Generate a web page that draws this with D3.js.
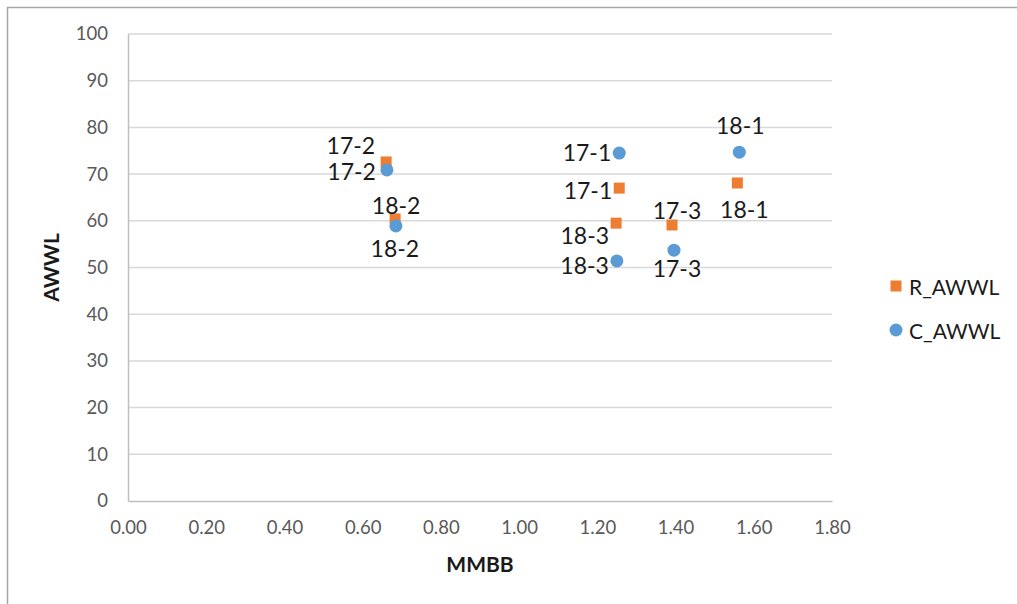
<!DOCTYPE html>
<html>
<head>
<meta charset="utf-8">
<script src="https://cdn.jsdelivr.net/npm/d3@7"></script>
<style>
  body { margin: 0; background: #fff; }
  svg { display: block; font-family: Lato, "Open Sans", sans-serif; }
</style>
</head>
<body>
<svg id="chart"></svg>
<script>
// data
const pointLabels = ["17-1", "17-2", "17-3", "18-1", "18-2", "18-3"];
const rMMBB = [1.256, 0.660, 1.391, 1.558, 0.683, 1.248];
const rAWWL = [67.0, 72.6, 59.1, 68.1, 60.4, 59.5];
const cMMBB = [1.256, 0.662, 1.396, 1.563, 0.685, 1.250];
const cAWWL = [74.5, 70.9, 53.7, 74.7, 58.9, 51.4];
const xTicks = [0, 0.2, 0.4, 0.6, 0.8, 1.0, 1.2, 1.4, 1.6, 1.8];
const yTicks = [0, 10, 20, 30, 40, 50, 60, 70, 80, 90, 100];

// where each data label sits next to its marker (style only)
const rLabelPlace = {
  "17-1": [-7, 2, "end"], "17-2": [-11, -17, "end"], "17-3": [5, -15, "middle"],
  "18-1": [7, 26, "middle"], "18-2": [1, -14, "middle"], "18-3": [-7, 12, "end"]
};
const cLabelPlace = {
  "17-1": [-8, -1, "end"], "17-2": [-11, 1, "end"], "17-3": [3, 18, "middle"],
  "18-1": [1, -27, "middle"], "18-2": [-1, 22, "middle"], "18-3": [-8, 4, "end"]
};

const W = 1017, H = 604;
const margin = { left: 128, top: 34, right: 185, bottom: 103 };
const width = W - margin.left - margin.right;
const height = H - margin.top - margin.bottom;

const svg = d3.select("#chart").attr("width", W).attr("height", H);
svg.append("rect").attr("width", W).attr("height", H).attr("fill", "#fff");

// outer chart frame (only top and left edges show in the picture)
svg.append("path")
  .attr("d", `M7.5,${H} V7.5 H${W}`)
  .attr("fill", "none")
  .attr("stroke", "#a6a6a6")
  .attr("stroke-width", 1.5);

const g = svg.append("g").attr("transform", `translate(${margin.left},${margin.top})`);

const x = d3.scaleLinear().domain([0, 1.8]).range([0, width]);
const y = d3.scaleLinear().domain([0, 100]).range([height, 0]);

// gridlines
g.append("g")
  .selectAll("line")
  .data(yTicks.filter((d) => d > 0))
  .join("line")
  .attr("x1", 0)
  .attr("x2", width)
  .attr("y1", (d) => y(d))
  .attr("y2", (d) => y(d))
  .attr("stroke", "#d9d9d9")
  .attr("stroke-width", 1.5);

// y axis
const yAxis = g.append("g").call(
  d3.axisLeft(y).tickValues(yTicks).tickSize(0).tickPadding(20).tickFormat(d3.format("d"))
);
yAxis.select(".domain").attr("stroke", "#bfbfbf").attr("stroke-width", 1.5);
yAxis.selectAll("text").attr("fill", "#595959").style("font-size", "18.5px")
  .style("font-family", "Lato, sans-serif");

// x axis
const xAxis = g.append("g")
  .attr("transform", `translate(0,${height})`)
  .call(d3.axisBottom(x).tickValues(xTicks).tickSize(0).tickPadding(20).tickFormat(d3.format(".2f")));
xAxis.select(".domain").attr("stroke", "#bfbfbf").attr("stroke-width", 1.5);
xAxis.selectAll("text").attr("fill", "#595959").style("font-size", "18.5px")
  .style("font-family", "Lato, sans-serif");

// axis titles
svg.append("text")
  .attr("x", margin.left + width / 2)
  .attr("y", 572)
  .attr("text-anchor", "middle")
  .style("font-size", "21px")
  .style("font-weight", "bold")
  .attr("fill", "#1a1a1a")
  .text("MMBB");

svg.append("text")
  .attr("transform", `translate(59,${margin.top + height / 2}) rotate(-90)`)
  .attr("text-anchor", "middle")
  .style("font-size", "21px")
  .style("font-weight", "bold")
  .attr("fill", "#1a1a1a")
  .text("AWWL");

const rData = pointLabels.map((d, i) => ({ label: d, x: rMMBB[i], y: rAWWL[i] }));
const cData = pointLabels.map((d, i) => ({ label: d, x: cMMBB[i], y: cAWWL[i] }));

// R_AWWL squares
g.append("g")
  .selectAll("rect")
  .data(rData)
  .join("rect")
  .attr("x", (d) => x(d.x) - 5.5)
  .attr("y", (d) => y(d.y) - 5.5)
  .attr("width", 11)
  .attr("height", 11)
  .attr("fill", "#ed7d31");

// C_AWWL circles
g.append("g")
  .selectAll("circle")
  .data(cData)
  .join("circle")
  .attr("cx", (d) => x(d.x))
  .attr("cy", (d) => y(d.y))
  .attr("r", 6.5)
  .attr("fill", "#5b9bd5");

function drawLabels(data, place) {
  g.append("g")
    .selectAll("text")
    .data(data)
    .join("text")
    .attr("x", (d) => x(d.x) + place[d.label][0])
    .attr("y", (d) => y(d.y) + place[d.label][1])
    .attr("text-anchor", (d) => place[d.label][2])
    .attr("dominant-baseline", "central")
    .attr("fill", "#1a1a1a")
    .style("font-size", "23px")
    .text((d) => d.label);
}
drawLabels(rData, rLabelPlace);
drawLabels(cData, cLabelPlace);

// legend
const legend = svg.append("g").attr("transform", "translate(896,0)");
legend.append("rect")
  .attr("x", -5.5).attr("y", 286 - 5.5)
  .attr("width", 11).attr("height", 11)
  .attr("fill", "#ed7d31");
legend.append("circle")
  .attr("cx", 0).attr("cy", 330).attr("r", 6.5)
  .attr("fill", "#5b9bd5");
legend.selectAll("text")
  .data(["R_AWWL", "C_AWWL"])
  .join("text")
  .attr("x", 13)
  .attr("y", (d, i) => 286 + i * 44)
  .attr("dominant-baseline", "central")
  .attr("fill", "#1a1a1a")
  .style("font-size", "21px")
  .text((d) => d);
</script>
</body>
</html>
